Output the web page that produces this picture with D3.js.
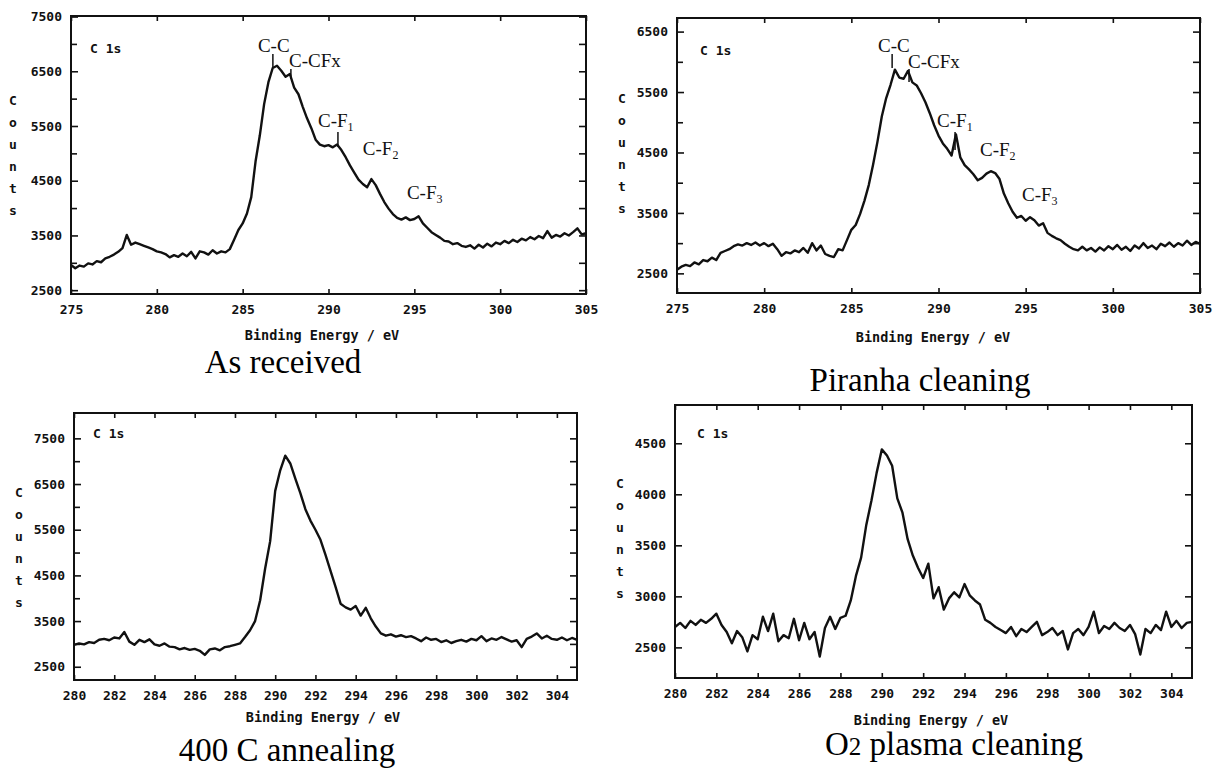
<!DOCTYPE html>
<html>
<head>
<meta charset="utf-8">
<script src="https://cdn.jsdelivr.net/npm/d3@7"></script>
<style>
  body { margin: 0; background: #fff; }
  svg { display: block; }
</style>
</head>
<body>
<svg id="chart" width="1220" height="770"></svg>
<script>
// ---- data ----
const energyWide = [275,275.25,275.5,275.75,276,276.25,276.5,276.75,277,277.25,277.5,277.75,278,278.25,278.5,278.75,
  279,279.25,279.5,279.75,280,280.25,280.5,280.75,281,281.25,281.5,281.75,282,282.25,282.5,282.75,
  283,283.25,283.5,283.75,284,284.25,284.5,284.75,285,285.25,285.5,285.75,286,286.25,286.5,286.75,
  287,287.25,287.5,287.75,288,288.25,288.5,288.75,289,289.25,289.5,289.75,290,290.25,290.5,290.75,
  291,291.25,291.5,291.75,292,292.25,292.5,292.75,293,293.25,293.5,293.75,294,294.25,294.5,294.75,
  295,295.25,295.5,295.75,296,296.25,296.5,296.75,297,297.25,297.5,297.75,298,298.25,298.5,298.75,
  299,299.25,299.5,299.75,300,300.25,300.5,300.75,301,301.25,301.5,301.75,302,302.25,302.5,302.75,
  303,303.25,303.5,303.75,304,304.25,304.5,304.75,305];
// the two lower spectra start at 280 eV
const energyNarrow = energyWide.filter(e => e >= 280);

const countsReceived = [
  2960,2900,2950,2930,2990,2970,3030,3010,
  3080,3110,3150,3200,3270,3510,3330,3370,
  3340,3310,3280,3250,3210,3190,3160,3100,
  3140,3110,3170,3120,3200,3080,3210,3190,
  3150,3230,3170,3210,3190,3250,3420,3600,
  3720,3900,4200,4850,5330,5900,6300,6560,
  6600,6510,6400,6450,6200,6080,5850,5640,
  5460,5250,5160,5130,5150,5110,5160,5060,
  4930,4780,4650,4520,4440,4380,4530,4420,
  4260,4110,3990,3890,3820,3790,3830,3780,
  3800,3850,3720,3640,3560,3510,3460,3400,
  3390,3340,3360,3310,3290,3320,3260,3330,
  3280,3350,3300,3370,3340,3400,3360,3420,
  3380,3440,3410,3470,3430,3490,3450,3580,
  3460,3510,3480,3540,3500,3560,3630,3520,
  3540];

const countsPiranha = [
  2560,2610,2640,2620,2680,2650,2720,2700,
  2760,2720,2840,2870,2900,2950,2980,2960,
  3000,2970,3010,2960,3000,2950,2990,2900,
  2790,2850,2830,2880,2850,2920,2840,3000,
  2880,2960,2820,2790,2770,2900,2880,3050,
  3220,3300,3480,3700,3960,4300,4680,5100,
  5400,5620,5870,5740,5720,5850,5660,5610,
  5480,5330,5150,4950,4780,4650,4560,4450,
  4800,4420,4290,4220,4140,4040,4080,4150,
  4190,4160,4060,3820,3660,3520,3420,3450,
  3370,3430,3380,3290,3330,3170,3120,3080,
  3050,2990,2940,2900,2880,2940,2880,2920,
  2860,2930,2880,2950,2900,2970,2890,2940,
  2870,2960,2910,3000,2920,2960,2900,2990,
  2950,3010,2940,3000,2960,3040,2970,3020,
  2990];

const countsAnnealed = [
  2980,3010,2990,3040,3020,3090,3110,3080,
  3140,3120,3260,3050,2980,3090,3040,3100,
  2990,2960,3010,2940,2930,2880,2910,2870,
  2890,2850,2760,2880,2900,2860,2930,2950,
  2980,3010,3150,3300,3500,3950,4650,5250,
  6350,6800,7120,6950,6620,6300,5950,5700,
  5500,5280,4950,4600,4250,3880,3800,3750,
  3830,3620,3790,3560,3380,3230,3180,3210,
  3160,3190,3150,3170,3120,3060,3140,3090,
  3110,3040,3080,3020,3060,3090,3050,3110,
  3080,3170,3060,3120,3090,3150,3100,3050,
  3080,2930,3110,3160,3230,3120,3180,3110,
  3090,3140,3080,3130,
  3090];

const countsPlasma = [
  2700,2740,2690,2760,2720,2770,2740,2780,
  2830,2720,2650,2540,2660,2600,2460,2620,
  2580,2800,2660,2830,2560,2620,2590,2780,
  2570,2740,2580,2650,2410,2690,2800,2680,
  2790,2810,2960,3200,3380,3700,3940,4210,
  4440,4380,4280,3960,3820,3560,3400,3280,
  3180,3320,2980,3090,2870,2980,3040,2990,
  3120,3010,2960,2920,2770,2740,2700,2670,
  2640,2700,2610,2680,2650,2700,2750,2620,
  2650,2690,2620,2660,2480,2640,2680,2620,
  2700,2850,2640,2710,2680,2740,2690,2660,
  2720,2630,2430,2680,2640,2720,2670,2850,
  2700,2760,2690,2740,
  2750];

// tick labels
const xTicksWide = [275, 280, 285, 290, 295, 300, 305];
const xTicksNarrow = [280, 282, 284, 286, 288, 290, 292, 294, 296, 298, 300, 302, 304];
const yTicksHigh = [2500, 3500, 4500, 5500, 6500, 7500];
const yMinorHigh = [3000, 4000, 5000, 6000, 7000];
const yTicksPiranha = [2500, 3500, 4500, 5500, 6500];
const yMinorPiranha = [3000, 4000, 5000, 6000];
const yTicksPlasma = [2500, 3000, 3500, 4000, 4500];

// peak labels (text start in eV, baseline in counts)
const peaksReceived = [
  { name: "C-C", sub: "", e: 285.89, c: 6852 },
  { name: "C-CFx", sub: "", e: 287.70, c: 6578 },
  { name: "C-F", sub: "1", e: 289.39, c: 5481 },
  { name: "C-F", sub: "2", e: 292.00, c: 4970 },
  { name: "C-F", sub: "3", e: 294.57, c: 4166 }
];
const markersReceived = [
  { e: 286.76, from: 6816, to: 6578 },
  { e: 287.81, from: 6541, to: 6358 },
  { e: 290.55, from: 5390, to: 5116 }
];
const peaksPiranha = [
  { name: "C-C", sub: "", e: 286.53, c: 6162 },
  { name: "C-CFx", sub: "", e: 288.25, c: 5898 },
  { name: "C-F", sub: "1", e: 289.92, c: 4922 },
  { name: "C-F", sub: "2", e: 292.38, c: 4442 },
  { name: "C-F", sub: "3", e: 294.79, c: 3697 }
];
const markersPiranha = [
  { e: 287.34, from: 6129, to: 5898 },
  { e: 288.31, from: 5881, to: 5666 },
  { e: 290.95, from: 4839, to: 4541 }
];

const captions = ["As received", "Piranha cleaning", "400 C annealing", "O2 plasma cleaning"];

// ---- layout ----
const panels = [
  { energy: energyWide, counts: countsReceived, xDomain: [275, 305], yDomain: [2430, 7510],
    xTicks: xTicksWide, yTicks: yTicksHigh, yMinor: yMinorHigh,
    peaks: peaksReceived, markers: markersReceived, caption: captions[0],
    left: 71, right: 586, top: 16, bottom: 294,
    countsX: 13, countsY: 100, tagX: 90, tagY: 53, titleX: 322, titleY: 340, capX: 283, capY: 373 },
  { energy: energyWide, counts: countsPiranha, xDomain: [275, 305], yDomain: [2175, 6725],
    xTicks: xTicksWide, yTicks: yTicksPiranha, yMinor: yMinorPiranha,
    peaks: peaksPiranha, markers: markersPiranha, caption: captions[1],
    left: 677, right: 1200, top: 18, bottom: 293,
    countsX: 622, countsY: 98, tagX: 700, tagY: 55, titleX: 933, titleY: 342, capX: 920, capY: 391 },
  { energy: energyNarrow, counts: countsAnnealed, xDomain: [280, 305], yDomain: [2210, 8055],
    xTicks: xTicksNarrow, yTicks: yTicksHigh, yMinor: yMinorHigh,
    peaks: [], markers: [], caption: captions[2],
    left: 74, right: 577, top: 413, bottom: 680,
    countsX: 19, countsY: 492, tagX: 93, tagY: 438, titleX: 323, titleY: 722, capX: 287, capY: 761 },
  { energy: energyNarrow, counts: countsPlasma, xDomain: [280, 305], yDomain: [2200, 4875],
    xTicks: xTicksNarrow, yTicks: yTicksPlasma, yMinor: [],
    peaks: [], markers: [], caption: captions[3],
    left: 675, right: 1192, top: 405, bottom: 678,
    countsX: 620, countsY: 483, tagX: 697, tagY: 438, titleX: 931, titleY: 725, capX: 954, capY: 755 }
];

const ink = "#111";
const mono = "'DejaVu Sans Mono', monospace";
const serif = "'Liberation Serif', 'Times New Roman', serif";

const svg = d3.select("#chart");

// strip the axis line and set the printer-like lettering
function styleAxis(sel) {
  sel.select(".domain").remove();
  sel.selectAll("line").attr("stroke", ink).attr("stroke-width", 1.6);
  sel.selectAll("text")
     .attr("fill", ink)
     .attr("font-family", mono)
     .attr("font-weight", "bold")
     .attr("font-size", 13);
}

function drawPanel(p) {
  const x = d3.scaleLinear().domain(p.xDomain).range([p.left, p.right]);
  const y = d3.scaleLinear().domain(p.yDomain).range([p.bottom, p.top]);
  const g = svg.append("g");

  g.append("g")
   .attr("transform", `translate(${p.left},0)`)
   .call(d3.axisLeft(y).tickValues(p.yTicks).tickFormat(d3.format("d"))
          .tickSizeInner(-7).tickSizeOuter(0).tickPadding(9))
   .call(styleAxis);

  g.append("g")
   .attr("transform", `translate(${p.left},0)`)
   .call(d3.axisLeft(y).tickValues(p.yMinor).tickFormat("").tickSizeInner(-6).tickSizeOuter(0))
   .call(styleAxis);

  g.append("g")
   .attr("transform", `translate(${p.right},0)`)
   .call(d3.axisRight(y).tickValues(p.yTicks.concat(p.yMinor)).tickFormat("")
          .tickSizeInner(-7).tickSizeOuter(0))
   .call(styleAxis);

  g.append("g")
   .attr("transform", `translate(0,${p.bottom})`)
   .call(d3.axisBottom(x).tickValues(p.xTicks).tickFormat(d3.format("d"))
          .tickSizeInner(-5).tickSizeOuter(0).tickPadding(11))
   .call(styleAxis);

  g.append("g")
   .attr("transform", `translate(0,${p.top})`)
   .call(d3.axisTop(x).tickValues(p.xTicks).tickFormat("").tickSizeInner(-5).tickSizeOuter(0))
   .call(styleAxis);

  g.append("rect")
   .attr("x", p.left).attr("y", p.top)
   .attr("width", p.right - p.left).attr("height", p.bottom - p.top)
   .attr("fill", "none").attr("stroke", ink).attr("stroke-width", 2);

  const line = d3.line().x(d => x(d[0])).y(d => y(d[1]));
  g.append("path")
   .datum(d3.zip(p.energy, p.counts))
   .attr("d", line)
   .attr("fill", "none")
   .attr("stroke", ink)
   .attr("stroke-width", 2.4)
   .attr("stroke-linejoin", "round");

  // peak assignments
  p.peaks.forEach(pk => {
    const t = g.append("text")
      .attr("x", x(pk.e)).attr("y", y(pk.c))
      .attr("font-family", serif).attr("font-size", 19).attr("fill", ink)
      .text(pk.name);
    if (pk.sub) t.append("tspan").attr("font-size", 12).attr("dy", 4).text(pk.sub);
  });
  g.selectAll(".marker")
   .data(p.markers)
   .enter()
   .append("line")
   .attr("x1", d => x(d.e)).attr("x2", d => x(d.e))
   .attr("y1", d => y(d.from)).attr("y2", d => y(d.to))
   .attr("stroke", ink).attr("stroke-width", 1.5);

  // "C 1s" tag
  g.append("text")
   .attr("x", p.tagX).attr("y", p.tagY)
   .attr("font-family", mono).attr("font-weight", "bold").attr("font-size", 13)
   .attr("fill", ink).attr("xml:space", "preserve")
   .text("C 1s");

  // stacked "Counts"
  g.selectAll(".ylab")
   .data("Counts".split(""))
   .enter()
   .append("text")
   .attr("x", p.countsX)
   .attr("y", (d, i) => p.countsY + i * 22)
   .attr("dy", "0.35em")
   .attr("text-anchor", "middle")
   .attr("font-family", mono).attr("font-weight", "bold").attr("font-size", 13)
   .attr("fill", ink)
   .text(d => d);

  g.append("text")
   .attr("x", p.titleX).attr("y", p.titleY)
   .attr("text-anchor", "middle")
   .attr("font-family", mono).attr("font-weight", "bold").attr("font-size", 13.5)
   .attr("fill", ink)
   .text("Binding Energy / eV");

  const cap = g.append("text")
   .attr("x", p.capX).attr("y", p.capY)
   .attr("text-anchor", "middle")
   .attr("font-family", serif).attr("font-size", 33)
   .attr("fill", "#000");
  if (p.caption.startsWith("O2")) {
    cap.append("tspan").text("O");
    cap.append("tspan").attr("font-size", 25).text("2");
    cap.append("tspan").text(p.caption.slice(2));
  } else {
    cap.text(p.caption);
  }
}

panels.forEach(drawPanel);
</script>
</body>
</html>
